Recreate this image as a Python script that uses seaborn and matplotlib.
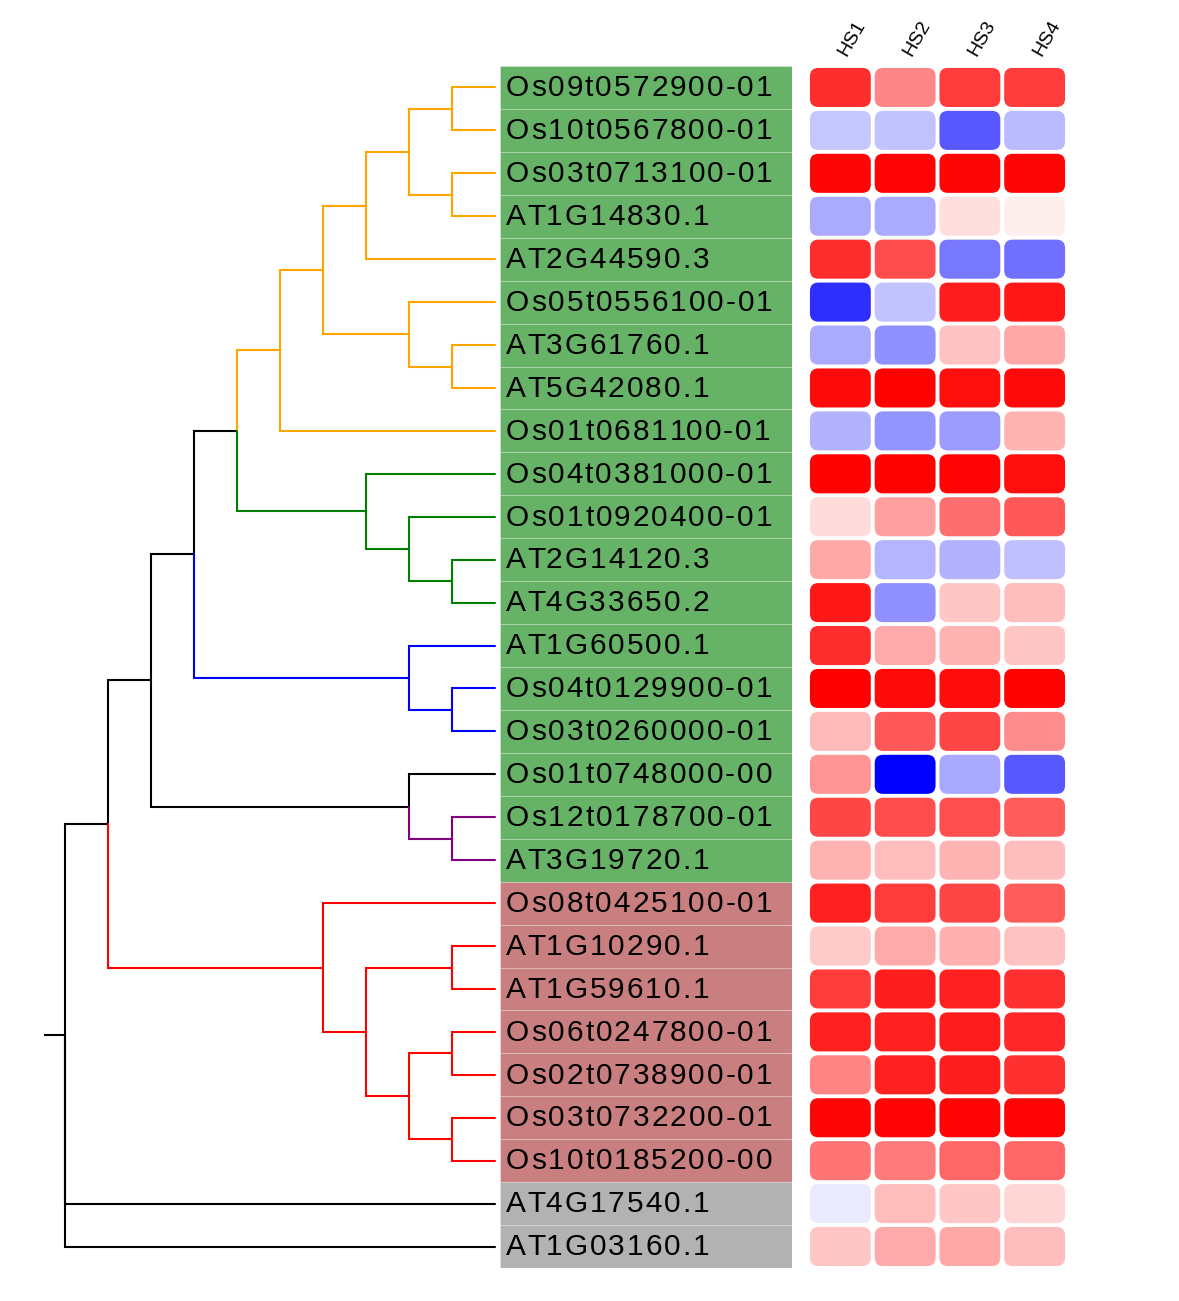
import numpy as np
import pandas as pd
import matplotlib
matplotlib.use('Agg')
import matplotlib.pyplot as plt
import matplotlib.transforms as mtransforms
import seaborn as sns
from matplotlib.patches import FancyBboxPatch, Rectangle
from matplotlib.font_manager import FontProperties

genes = ['Os09t0572900-01', 'Os10t0567800-01', 'Os03t0713100-01', 'AT1G14830.1',
         'AT2G44590.3', 'Os05t0556100-01', 'AT3G61760.1', 'AT5G42080.1',
         'Os01t0681100-01', 'Os04t0381000-01', 'Os01t0920400-01', 'AT2G14120.3',
         'AT4G33650.2', 'AT1G60500.1', 'Os04t0129900-01', 'Os03t0260000-01',
         'Os01t0748000-00', 'Os12t0178700-01', 'AT3G19720.1', 'Os08t0425100-01',
         'AT1G10290.1', 'AT1G59610.1', 'Os06t0247800-01', 'Os02t0738900-01',
         'Os03t0732200-01', 'Os10t0185200-00', 'AT4G17540.1', 'AT1G03160.1']
samples = ['HS1', 'HS2', 'HS3', 'HS4']

hs1 = [0.82, -0.22, 0.97, -0.33, 0.82, -0.82, -0.33, 0.96, -0.30, 0.99,
       0.14, 0.34, 0.90, 0.82, 1.00, 0.27, 0.42, 0.72, 0.30, 0.87,
       0.21, 0.76, 0.87, 0.48, 0.97, 0.54, -0.08, 0.22]
hs2 = [0.47, -0.24, 0.98, -0.33, 0.70, -0.24, -0.43, 0.99, -0.42, 0.99,
       0.37, -0.29, -0.43, 0.33, 0.96, 0.65, -1.00, 0.70, 0.26, 0.76,
       0.33, 0.88, 0.87, 0.87, 0.98, 0.52, 0.26, 0.33]
hs3 = [0.76, -0.65, 0.97, 0.13, -0.53, 0.89, 0.24, 0.94, -0.39, 0.98,
       0.57, -0.30, 0.22, 0.29, 0.95, 0.72, -0.34, 0.69, 0.29, 0.72,
       0.31, 0.87, 0.89, 0.88, 0.98, 0.60, 0.22, 0.34]
hs4 = [0.76, -0.27, 0.97, 0.07, -0.56, 0.90, 0.34, 0.96, 0.29, 0.94,
       0.65, -0.25, 0.25, 0.22, 0.99, 0.45, -0.65, 0.64, 0.25, 0.64,
       0.24, 0.81, 0.84, 0.81, 0.98, 0.60, 0.16, 0.25]

# label background group of each gene
groups = ['green'] * 19 + ['brown'] * 7 + ['gray'] * 2

# tree topology, leaves are row indices of genes
tree = ((((((((((0, 1), (2, 3)), 4), (5, (6, 7))), 8),
             (9, (10, (11, 12)))),
            (13, (14, 15))),
           (16, (17, 18))),
          (19, ((20, 21), ((22, 23), (24, 25))))),
         26, 27)

# clade colour keyed by (first leaf, last leaf)
clade_colors = {(0, 8): 'orange', (9, 12): 'green', (13, 15): 'blue',
                (17, 18): 'purple', (19, 25): 'red'}

df = pd.DataFrame({'HS1': hs1, 'HS2': hs2, 'HS3': hs3, 'HS4': hs4}, index=genes)

sns.set_style('white')
plt.rcParams['font.family'] = ['Liberation Sans', 'DejaVu Sans']

W, H = 1179, 1301
DPI = 100
fig = plt.figure(figsize=(W / DPI, H / DPI), dpi=DPI)
top_px, bot_px = 66, 1268
fb = 1 - bot_px / H
fh = (bot_px - top_px) / H
ax_tree = fig.add_axes([44 / W, fb, 451 / W, fh])
ax_lab = fig.add_axes([500 / W, fb, 292 / W, fh])
ax_hm = fig.add_axes([808 / W, fb, 259 / W, fh])


def leaves(node):
    if isinstance(node, int):
        return [node]
    out = []
    for c in node:
        out += leaves(c)
    return out


def layout(node):
    # returns (y, height)
    if isinstance(node, int):
        return float(node), 0
    res = [layout(c) for c in node]
    y = (res[0][0] + res[-1][0]) / 2
    h = 1 + max(r[1] for r in res)
    return y, h


max_h = layout(tree)[1]


def draw(node, color):
    if isinstance(node, int):
        return
    yp, hp = layout(node)
    xp = max_h - hp
    for c in node:
        lv = leaves(c)
        col = clade_colors.get((min(lv), max(lv)), color)
        yc, hc = layout(c)
        xc = max_h - hc
        ax_tree.plot([xp, xp, xc], [yp, yc, yc], color=col, lw=1.5,
                     solid_joinstyle='miter', clip_on=False)
        draw(c, col)


draw(tree, 'black')
yr = layout(tree)[0]
ax_tree.plot([-0.5, 0], [yr, yr], color='black', lw=1.5)
ax_tree.set_xlim(-0.5, max_h)
ax_tree.set_ylim(len(genes) - 0.5, -0.5)
ax_tree.axis('off')

# gene label boxes, text drawn with a little letter spacing
fp = FontProperties(family='Liberation Sans', size=21.5)
renderer = fig.canvas.get_renderer()
spacing = 2.0  # px between letters
for i, g in enumerate(genes):
    fc = matplotlib.colors.to_rgba(groups[i], 0.6)
    ax_lab.add_patch(Rectangle((0, i - 0.5), 1, 1, facecolor=fc,
                               edgecolor=(1, 1, 1, 0.25), lw=0.8))
    for k, ch in enumerate(g):
        w = renderer.get_text_width_height_descent(g[:k], fp, ismath=False)[0] if k else 0
        off = (w + k * spacing) * 72 / DPI
        ax_lab.annotate(ch, xy=(0.02, i), xycoords='data',
                        xytext=(off, -6.3), textcoords='offset points',
                        va='baseline', ha='left', fontproperties=fp, color='black')
ax_lab.set_xlim(0, 1)
ax_lab.set_ylim(len(genes) - 0.5, -0.5)
ax_lab.axis('off')

# heatmap with rounded cells
sns.heatmap(df, ax=ax_hm, cmap='bwr', vmin=-1, vmax=1, cbar=False,
            xticklabels=True, yticklabels=False)
mesh = ax_hm.collections[0]
cell_colors = mesh.cmap(mesh.norm(df.values))
mesh.set_visible(False)
dx, dy = 0.03, 0.045
for i in range(df.shape[0]):
    for j in range(df.shape[1]):
        ax_hm.add_patch(FancyBboxPatch((j + dx, i + dy), 1 - 2 * dx, 1 - 2 * dy,
                                       boxstyle='round,pad=0,rounding_size=0.13',
                                       mutation_aspect=1.5,
                                       facecolor=cell_colors[i, j], edgecolor='none'))
ax_hm.xaxis.tick_top()
ax_hm.tick_params(axis='x', length=0, pad=5)
ax_hm.set_xticklabels(samples, rotation=60, ha='left', rotation_mode='anchor')
shift = mtransforms.ScaledTranslation(7 / 72, 0, fig.dpi_scale_trans)
for t in ax_hm.get_xticklabels():
    t.set_fontsize(14)
    t.set_color('black')
    t.set_transform(t.get_transform() + shift)
ax_hm.set_xlabel('')
ax_hm.set_ylabel('')

fig.savefig('out.png', dpi=DPI)
